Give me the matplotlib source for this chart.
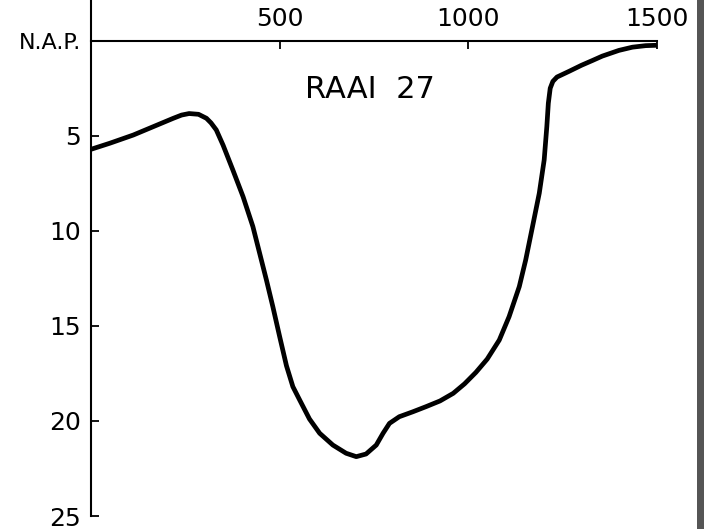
import matplotlib
matplotlib.use("Agg")
import matplotlib.pyplot as plt
from matplotlib.patches import Rectangle

# Profile RAAI 27: distance along section (m) and depth below N.A.P. (m)
distance = [0, 50, 112, 165, 218, 240, 260, 285, 306, 318, 332, 350, 376,
            403, 429, 447, 465, 482, 500, 518, 535, 553, 579, 606, 641, 676,
            703, 729, 756, 774, 791, 817, 853, 888, 925, 960, 990, 1020, 1050,
            1082, 1108, 1135, 1152, 1170, 1188, 1201, 1208, 1212, 1217, 1224,
            1235, 1267, 1300, 1329, 1355, 1399, 1435, 1470, 1500]
depth = [5.72, 5.40, 4.97, 4.53, 4.09, 3.92, 3.84, 3.88, 4.09, 4.33, 4.70,
         5.50, 6.81, 8.21, 9.78, 11.19, 12.6, 14.0, 15.57, 17.1, 18.2, 18.9,
         19.9, 20.65, 21.27, 21.70, 21.88, 21.74, 21.27, 20.65, 20.13, 19.78,
         19.52, 19.25, 18.95, 18.55, 18.05, 17.45, 16.75, 15.75, 14.52,
         12.94, 11.54, 9.79, 8.03, 6.28, 4.53, 3.30, 2.51, 2.15, 1.92, 1.62,
         1.30, 1.05, 0.82, 0.52, 0.35, 0.27, 0.25]

x_ticks = [500, 1000, 1500]
y_ticks = [0, 5, 10, 15, 20, 25]
y_labels = ["N.A.P.", "5", "10", "15", "20", "25"]

W, H = 704, 529
fig = plt.figure(figsize=(W / 100, H / 100), dpi=100)
ax = fig.add_axes([91 / W, 13 / H, (657 - 91) / W, 516 / H])

ax.plot(distance, depth, color="black", lw=3.4, solid_joinstyle="round",
        solid_capstyle="butt")

ax.set_xlim(0, 1500)
ax.set_ylim(25, -2.13)

for s in ["right", "bottom"]:
    ax.spines[s].set_visible(False)
ax.spines["left"].set_linewidth(1.5)
ax.spines["top"].set_linewidth(1.5)
ax.spines["top"].set_position(("data", 0))
ax.spines["top"].set_bounds(0, 1500)

ax.xaxis.tick_top()
ax.set_xticks(x_ticks)
ax.set_xticklabels([str(v) for v in x_ticks])
ax.tick_params(axis="x", direction="in", length=6, width=1.3, pad=7,
               labelsize=18)

ax.set_yticks(y_ticks)
ax.set_yticklabels(y_labels)
ax.tick_params(axis="y", direction="in", length=6, width=1.3, pad=7,
               labelsize=18)
ax.get_yticklabels()[0].set_fontsize(16)

ax.text(738, 2.6, "RAAI  27", fontsize=22, ha="center", va="center")

# dark edge of the scanned page on the right
fig.add_artist(Rectangle((697 / W, 0), 7 / W, 1, transform=fig.transFigure,
                         color="#555555", lw=0))

fig.savefig("out.png", dpi=100)
